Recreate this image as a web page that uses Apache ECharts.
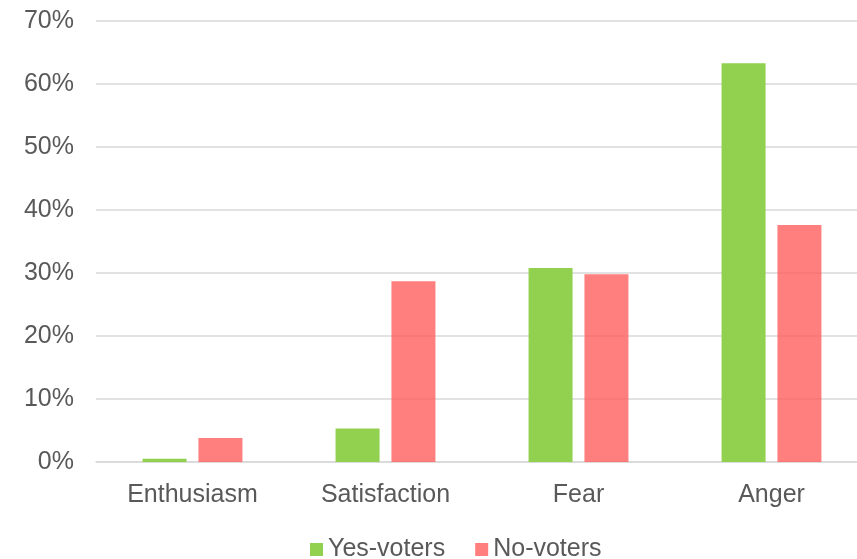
<!DOCTYPE html>
<html>
<head>
<meta charset="utf-8">
<script src="https://cdn.jsdelivr.net/npm/echarts@6/dist/echarts.min.js"></script>
<style>
  html, body { margin: 0; padding: 0; background: #ffffff; overflow: hidden; }
  #chart { width: 868px; height: 559px; }
</style>
</head>
<body>
<div id="chart"></div>
<script>
// Emotions reported by voters, share of respondents (%)
const categories = ['Enthusiasm', 'Satisfaction', 'Fear', 'Anger'];
const yesVoters = [0.5, 5.3, 30.8, 63.3];
const noVoters = [3.8, 28.7, 29.8, 37.6];
const seriesNames = ['Yes-voters', 'No-voters'];

const textColor = '#595959';
const gridColor = '#d9d9d9';
const font = 'Liberation Sans, Arial, sans-serif';

const chart = echarts.init(document.getElementById('chart'));
chart.setOption({
  animation: false,
  grid: { left: 96, top: 21, right: 0, height: 441 },
  legend: {
    data: seriesNames,
    left: 305,
    top: 532,
    itemWidth: 13,
    itemHeight: 13,
    itemGap: 30,
    icon: 'rect',
    textStyle: { color: textColor, fontSize: 25, fontFamily: font }
  },
  xAxis: {
    type: 'category',
    data: categories,
    axisLine: { lineStyle: { color: gridColor, width: 1.5 } },
    axisTick: { show: false },
    axisLabel: { color: textColor, fontSize: 25, fontFamily: font, margin: 21 }
  },
  yAxis: {
    type: 'value',
    min: 0,
    max: 70,
    interval: 10,
    axisLine: { show: false },
    axisTick: { show: false },
    splitLine: { lineStyle: { color: gridColor, width: 1.5 } },
    axisLabel: { color: textColor, fontSize: 25, fontFamily: font, margin: 22, formatter: '{value}%' }
  },
  series: [
    {
      name: seriesNames[0],
      type: 'bar',
      data: yesVoters,
      barWidth: 44,
      barGap: '27%',
      itemStyle: { color: '#92d050' }
    },
    {
      name: seriesNames[1],
      type: 'bar',
      data: noVoters,
      barWidth: 44,
      itemStyle: { color: '#ff5f5f', opacity: 0.8 }
    }
  ]
});
</script>
</body>
</html>
